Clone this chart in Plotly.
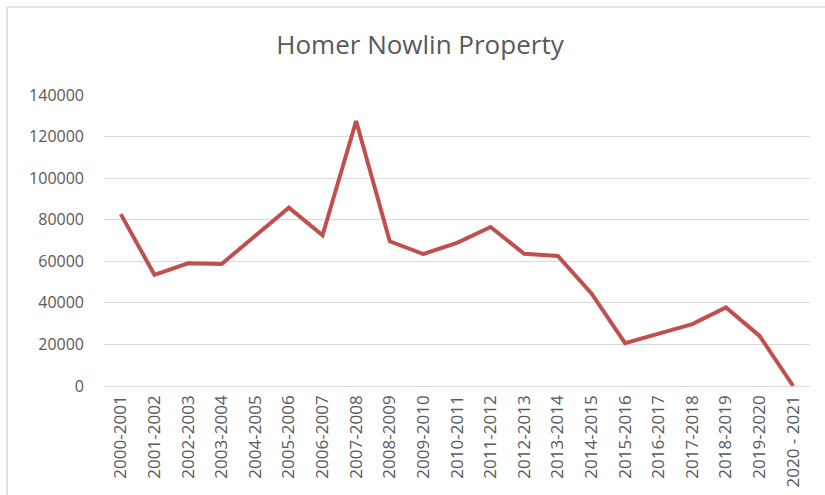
import plotly.graph_objects as go

years = ["2000-2001", "2001-2002", "2002-2003", "2003-2004", "2004-2005", "2005-2006",
         "2006-2007", "2007-2008", "2008-2009", "2009-2010", "2010-2011", "2011-2012",
         "2012-2013", "2013-2014", "2014-2015", "2015-2016", "2016-2017", "2017-2018",
         "2018-2019", "2019-2020", "2020 - 2021"]
values = [82700, 53500, 59000, 58700, 72300, 85800, 72500, 127500, 69600, 63500,
          68900, 76500, 63600, 62600, 44500, 20600, 25200, 29800, 37800, 24100, 0]

W, H = 825, 495
L, R, T, B = 104, 15, 95, 109
pw, ph = W - L - R, H - T - B

border = dict(color="#D9D9D9", width=1.5)

fig = go.Figure()
fig.add_trace(go.Scatter(x=years, y=values, mode="lines",
                         line=dict(color="#C0504D", width=4), hoverinfo="x+y"))

fig.update_layout(
    width=W, height=H,
    margin=dict(l=L, r=R, t=T, b=B, autoexpand=False),
    paper_bgcolor="white", plot_bgcolor="white",
    showlegend=False,
    title=dict(text="Homer Nowlin Property", x=420 / W, xanchor="center",
               y=1 - 45 / H, yanchor="middle", yref="container",
               font=dict(family="Open Sans", size=26, color="#595959")),
    font=dict(family="Open Sans", color="#595959"),
    xaxis=dict(type="category", range=[-0.5, 20.5], tickangle=-90, showgrid=False,
               tickfont=dict(size=17, color="#595959"), ticks="", showline=False,
               ticklabelstandoff=5, automargin=False),
    yaxis=dict(range=[0, 140000], dtick=20000, showgrid=True, gridcolor="#D9D9D9", gridwidth=1,
               zeroline=True, zerolinecolor="#D9D9D9", zerolinewidth=1,
               tickfont=dict(size=16, color="#595959"), ticks="", showline=False,
               tickformat="d", ticklabelstandoff=19, automargin=False),
    shapes=[
        dict(type="line", xref="paper", yref="paper",
             x0=(-L + 7) / pw, x1=(-L + 7) / pw, y0=-(B + 20) / ph, y1=1 + (T - 7) / ph,
             line=border, layer="below"),
        dict(type="line", xref="paper", yref="paper",
             x0=(-L + 7) / pw, x1=(pw + R + 20) / pw, y0=1 + (T - 7) / ph, y1=1 + (T - 7) / ph,
             line=border, layer="below"),
    ],
)

fig.write_html("out.html", config={"displayModeBar": False},
               post_script="document.body.style.margin='0px';document.body.style.overflow='hidden';")
